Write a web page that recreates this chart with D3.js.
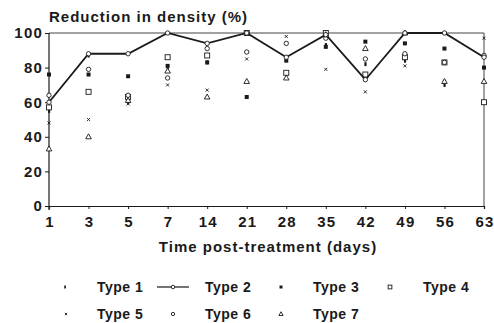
<!DOCTYPE html>
<html>
<head>
<meta charset="utf-8">
<script src="https://cdn.jsdelivr.net/npm/d3@7"></script>
<style>
  html, body { margin: 0; padding: 0; background: #fff; }
  svg text { font-family: "Liberation Sans", Arial, sans-serif; font-weight: bold; fill: #1a1a1a; }
</style>
</head>
<body>
<div id="chart"></div>
<script>
// days post-treatment (categorical axis)
const days = [1, 3, 5, 7, 14, 21, 28, 35, 42, 49, 56, 63];
const yTicks = [0, 20, 40, 60, 80, 100];

// reduction in density (%) per type
const type1 = [55, 87, 60, 79, 83, 63, 86, 93, 82, 84, 70, 87];
const type2 = [60, 88, 88, 100, 94, 100, 86, 99, 73, 100, 100, 86];
const type3 = [76, 76, 75, 81, 83, 63, 84, 92, 95, 94, 91, 80];
const type4 = [57, 66, 63, 86, 87, 100, 77, 100, 76, 86, 83, 60];
const type5 = [48, 50, 59, 70, 67, 85, 98, 79, 66, 81, 72, 97];
const type6 = [64, 79, 64, 74, 91, 89, 94, 97, 85, 88, 83, 87];
const type7 = [33, 40, 61, 78, 63, 72, 74, 99, 91, 100, 72, 72];

const series = [
  {name: 'Type 1', values: type1, marker: 'bar'},
  {name: 'Type 2', values: type2, marker: 'line'},
  {name: 'Type 3', values: type3, marker: 'fsquare'},
  {name: 'Type 4', values: type4, marker: 'osquare'},
  {name: 'Type 5', values: type5, marker: 'cross'},
  {name: 'Type 6', values: type6, marker: 'ocircle'},
  {name: 'Type 7', values: type7, marker: 'triangle'}
];

const width = 494, height = 323;
const ink = '#1a1a1a';

const svg = d3.select('#chart').append('svg')
  .attr('width', width)
  .attr('height', height);

const x = d3.scalePoint().domain(days).range([49, 484]);
const y = d3.scaleLinear().domain([0, 100]).range([206, 33]);

// frame: top and right edges
svg.append('path')
  .attr('d', `M${x(days[0])},${y(100)}H${x(days[days.length - 1])}V${y(0)}`)
  .attr('fill', 'none')
  .attr('stroke', '#444')
  .attr('stroke-width', 1);

const yAxis = svg.append('g')
  .attr('transform', `translate(${x(days[0])},0)`)
  .call(d3.axisLeft(y).tickValues(yTicks).tickSize(4).tickPadding(2));

const xAxis = svg.append('g')
  .attr('transform', `translate(0,${y(0)})`)
  .call(d3.axisBottom(x).tickSize(3).tickPadding(5));

[xAxis, yAxis].forEach(ax => {
  ax.select('.domain').attr('stroke', ink).attr('stroke-width', 1.2);
  ax.selectAll('.tick line').attr('stroke', ink);
  ax.selectAll('text')
    .attr('fill', ink)
    .style('font-size', '15px')
    .style('letter-spacing', '1.2px');
});
yAxis.selectAll('.domain').attr('d', `M0,${y(100)}V${y(0) + 4}`);
xAxis.selectAll('text').attr('dy', '0.85em').attr('dx', '0.5px');

svg.append('text')
  .attr('x', 49)
  .attr('y', 22)
  .style('font-size', '15px')
  .style('letter-spacing', '1px')
  .text('Reduction in density (%)');

svg.append('text')
  .attr('x', 268)
  .attr('y', 252)
  .attr('text-anchor', 'middle')
  .style('font-size', '15px')
  .style('letter-spacing', '1px')
  .text('Time post-treatment (days)');

function drawMarker(g, kind, cx, cy, s = 1) {
  switch (kind) {
    case 'bar':
      g.append('rect').attr('x', cx - 1 * s).attr('y', cy - 2 * s).attr('width', 2.2 * s).attr('height', 4 * s).attr('fill', ink);
      break;
    case 'fsquare':
      g.append('rect').attr('x', cx - 2 * s).attr('y', cy - 2 * s).attr('width', 4 * s).attr('height', 4 * s).attr('fill', ink);
      break;
    case 'osquare':
      g.append('rect').attr('x', cx - 2.5 * s).attr('y', cy - 2.5 * s).attr('width', 5 * s).attr('height', 5 * s)
        .attr('fill', '#fff').attr('stroke', ink).attr('stroke-width', 0.9);
      break;
    case 'cross':
      g.append('path').attr('d', `M${cx - 1.5 * s},${cy - 1.5 * s}L${cx + 1.5 * s},${cy + 1.5 * s}M${cx + 1.5 * s},${cy - 1.5 * s}L${cx - 1.5 * s},${cy + 1.5 * s}`)
        .attr('stroke', ink).attr('stroke-width', 0.9);
      break;
    case 'ocircle':
    case 'line':
      g.append('circle').attr('cx', cx).attr('cy', cy).attr('r', 2.2 * s)
        .attr('fill', '#fff').attr('stroke', ink).attr('stroke-width', 0.9);
      break;
    case 'triangle':
      g.append('path').attr('d', `M${cx},${cy - 3 * s}L${cx + 2.8 * s},${cy + 2 * s}L${cx - 2.8 * s},${cy + 2 * s}Z`)
        .attr('fill', '#fff').attr('stroke', ink).attr('stroke-width', 0.9);
      break;
  }
}

// scatter types
const pts = svg.append('g');
series.filter(s => s.marker !== 'line').forEach(s => {
  s.values.forEach((v, i) => drawMarker(pts, s.marker, x(days[i]), y(v)));
});

// type 2 line
const line = d3.line().x((d, i) => x(days[i])).y(d => y(d));
svg.append('path')
  .datum(type2)
  .attr('d', line)
  .attr('fill', 'none')
  .attr('stroke', ink)
  .attr('stroke-width', 1.8);
const t2 = svg.append('g');
type2.forEach((v, i) => drawMarker(t2, 'line', x(days[i]), y(v)));

// legend
const legendPos = [
  {mx: 65, tx: 97, ty: 292},
  {mx: 173, tx: 205, ty: 292},
  {mx: 281, tx: 313, ty: 292},
  {mx: 390, tx: 423, ty: 292},
  {mx: 66, tx: 97, ty: 319},
  {mx: 173, tx: 205, ty: 319},
  {mx: 281, tx: 313, ty: 319}
];
const legend = svg.append('g');
series.forEach((s, i) => {
  const p = legendPos[i];
  const my = p.ty - 5;
  if (s.marker === 'line') {
    legend.append('line').attr('x1', p.mx - 16).attr('x2', p.mx + 16).attr('y1', my).attr('y2', my)
      .attr('stroke', ink).attr('stroke-width', 1.2);
    drawMarker(legend, 'line', p.mx, my, 0.8);
  } else {
    drawMarker(legend, s.marker, p.mx, my, 0.75);
  }
  legend.append('text')
    .attr('x', p.tx)
    .attr('y', p.ty)
    .style('font-size', '14px')
    .style('letter-spacing', '0.5px')
    .text(s.name);
});
</script>
</body>
</html>
